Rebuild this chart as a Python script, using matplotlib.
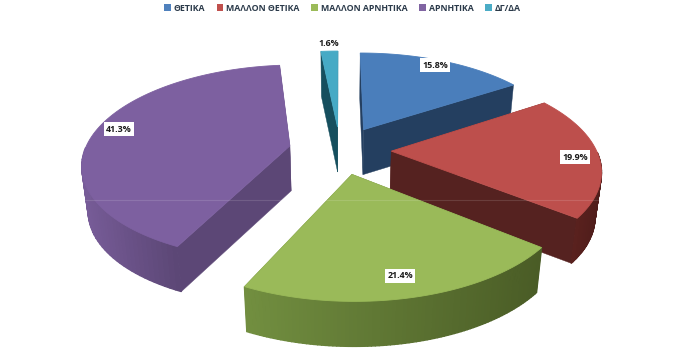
import numpy as np
import matplotlib
matplotlib.use("Agg")
import matplotlib.pyplot as plt
from matplotlib.patches import Patch
from matplotlib.colors import to_rgb

# ---- data ----
categories = ["ΘΕΤΙΚΑ", "ΜΑΛΛΟΝ ΘΕΤΙΚΑ", "ΜΑΛΛΟΝ ΑΡΝΗΤΙΚΑ", "ΑΡΝΗΤΙΚΑ", "ΔΓ/ΔΑ"]
values = [15.8, 19.9, 21.4, 41.3, 1.6]
value_labels = ["15.8%", "19.9%", "21.4%", "41.3%", "1.6%"]

# ---- style ----
top_colors = ["#4a7ebb", "#bd4f4c", "#9aba59", "#7d60a0", "#46aac5"]
wall_colors = ["#243f60", "#552220", "#4c5f27", "#5c4776", "#164f5e"]
rim_light = ["#2c4c74", "#5a211e", "#728f40", "#775c98", "#1e6070"]
rim_dark = ["#243f60", "#4f1d1b", "#4a5c26", "#5c4776", "#164f5e"]
legend_colors = ["#4f81bd", "#c0504d", "#9bbb59", "#8064a2", "#4bacc6"]
draw_order = [4, 0, 3, 1, 2]
label_xy = [(435, 65), (575, 157), (400, 276), (119, 129), (329, 43)]

CX, CY, A, B, P, EXPLODE, DEPTH, TAPER = 340, 150, 205, 96, 0.17, 0.25, 45, 0.025


def project(u, v, z=0.0):
    w = 1.0 / (1.0 - P * v)
    return CX + A * u * w * (1 - TAPER * z), CY + B * v * w + z * DEPTH


fig = plt.figure(figsize=(7.0, 3.52), dpi=100)
ax = fig.add_axes([0, 0, 1, 1])
ax.set_xlim(0, 700)
ax.set_ylim(352, 0)
ax.axis("off")

edges = np.concatenate([[0], np.cumsum(values)]) / np.sum(values) * 2 * np.pi


def fill(pts, color, z, lw=0.3):
    ax.fill(*zip(*pts), color=color, lw=lw, ec=color, zorder=z)


for layer, i in enumerate(draw_order):
    t0, t1 = edges[i], edges[i + 1]
    mid = (t0 + t1) / 2
    ou, ov = EXPLODE * np.sin(mid), -EXPLODE * np.cos(mid)
    ts = np.linspace(t0, t1, 90)
    us = ou + np.sin(ts)
    vs = ov - np.cos(ts)
    z = 10 + layer
    # radial walls
    for t in (t0, t1):
        eu, ev = ou + np.sin(t), ov - np.cos(t)
        fill([project(ou, ov), project(eu, ev), project(eu, ev, 1), project(ou, ov, 1)],
             wall_colors[i], z)
    # outer rim: only its front-facing part, shaded left to right
    c0, c1 = np.array(to_rgb(rim_light[i])), np.array(to_rgb(rim_dark[i]))
    front = -np.cos(ts) > 0
    sx = np.array([project(a, b)[0] for a, b in zip(us, vs)])
    if front.any():
        lo, hi = sx[front].min(), sx[front].max()
        for k in range(len(ts) - 1):
            if not (front[k] and front[k + 1]):
                continue
            f = np.clip((sx[k] - lo) / max(hi - lo, 1), 0, 1)
            col = c0 * (1 - f) + c1 * f
            fill([project(us[k], vs[k]), project(us[k + 1], vs[k + 1]),
                  project(us[k + 1], vs[k + 1], 1), project(us[k], vs[k], 1)], col, z, lw=1.0)
    # top face
    pts = [project(ou, ov)] + [project(a, b) for a, b in zip(us, vs)]
    fill(pts, top_colors[i], z + 0.5, lw=0.6)

# faint horizontal scan artefact of the source image
ax.axhline(200, xmin=85 / 700, xmax=600 / 700, color="white", alpha=0.13, lw=0.8, zorder=30)

font = ["Open Sans", "DejaVu Sans"]
for (x, y), s in zip(label_xy, value_labels):
    ax.text(x, y, s, ha="center", va="center", fontsize=6.4, fontweight="bold",
            family=font, color="#1a1a1a", zorder=40,
            bbox=dict(fc="white", ec="none", pad=1.6))

handles = [Patch(fc=c, ec="none", label=n) for c, n in zip(legend_colors, categories)]
ax.legend(handles=handles, loc="upper center", bbox_to_anchor=(0.489, 1.012), ncol=5,
          frameon=False, handlelength=0.75, handleheight=0.75, handletextpad=0.35,
          columnspacing=1.32, prop=dict(family=font, size=6.3, weight="bold"),
          labelcolor="#2b3a4a")

fig.savefig("out.png", dpi=100)
